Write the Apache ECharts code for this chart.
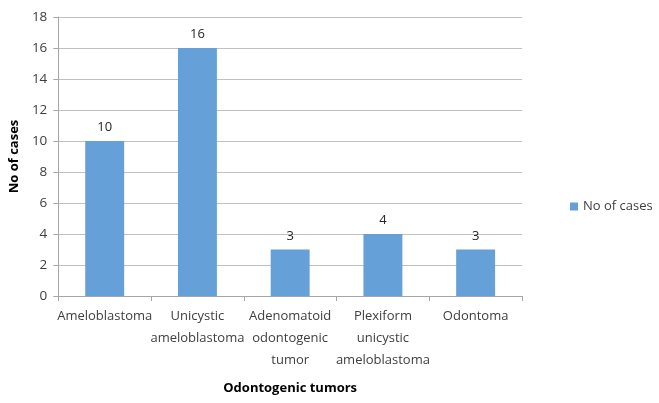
<!DOCTYPE html>
<html><head><meta charset="utf-8">
<script src="https://cdn.jsdelivr.net/npm/echarts@6/dist/echarts.min.js"></script>
<style>html,body{margin:0;padding:0;background:#fff}#c{width:659px;height:403px}</style>
</head><body><div id="c"></div>
<script>
const categories = ["Ameloblastoma", "Unicystic\nameloblastoma", "Adenomatoid\nodontogenic\ntumor", "Plexiform\nunicystic\nameloblastoma", "Odontoma"];
const seriesName = "No of cases";
const values = [10, 16, 3, 4, 3];
const yTicks = {min: 0, max: 18, interval: 2};
const FONT = "'Open Sans', 'Noto Sans', sans-serif";
const chart = echarts.init(document.getElementById('c'), null, {renderer: 'canvas'});
chart.setOption({
  animation: false,
  grid: {left: 57, right: 137, top: 17, bottom: 107},
  legend: {
    data: [seriesName], orient: 'vertical', left: 565, top: 195,
    icon: 'rect', itemWidth: 8, itemHeight: 8, itemGap: 4,
    textStyle: {fontFamily: FONT, fontSize: 13, color: '#404040'}
  },
  xAxis: {
    type: 'category', data: categories,
    name: 'Odontogenic tumors', nameLocation: 'middle', nameGap: 86,
    nameTextStyle: {fontFamily: FONT, fontSize: 13, fontWeight: 'bold', color: '#000'},
    axisLine: {lineStyle: {color: '#a6a6a6'}},
    axisTick: {show: true, length: 5, lineStyle: {color: '#a6a6a6'}},
    axisLabel: {fontFamily: FONT, fontSize: 13, color: '#404040', lineHeight: 22, margin: 9, interval: 0}
  },
  yAxis: {
    type: 'value', min: yTicks.min, max: yTicks.max, interval: yTicks.interval,
    name: 'No of cases', nameLocation: 'middle', nameGap: 35,
    nameTextStyle: {fontFamily: FONT, fontSize: 13, fontWeight: 'bold', color: '#000'},
    axisLine: {show: true, lineStyle: {color: '#a6a6a6'}},
    axisTick: {show: true, length: 5, lineStyle: {color: '#a6a6a6'}},
    splitLine: {lineStyle: {color: '#c0c0c0'}},
    axisLabel: {fontFamily: FONT, fontSize: 13.5, color: '#404040', margin: 11}
  },
  series: [{
    name: seriesName, type: 'bar', data: values, barWidth: '42%',
    itemStyle: {color: '#65a0d9'},
    label: {show: true, position: 'top', distance: 7, fontFamily: FONT, fontSize: 13, color: '#262626'}
  }]
});
</script></body></html>
